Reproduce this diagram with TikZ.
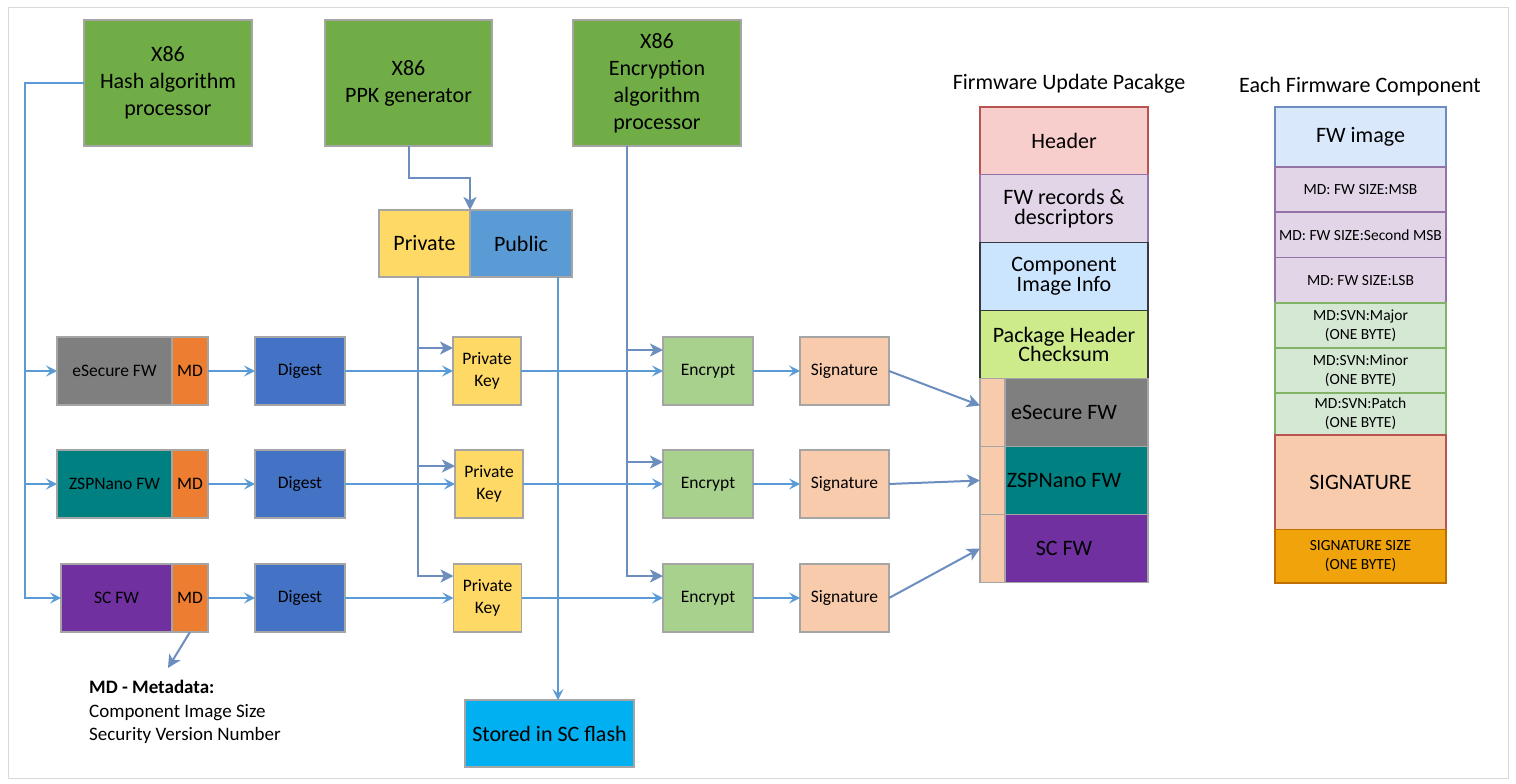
\documentclass[tikz,border=0pt]{standalone}
\usepackage{fontspec}
\setmainfont{Carlito}
\usetikzlibrary{positioning,arrows.meta}

\definecolor{framegray}{HTML}{D9D9D9}
\definecolor{boxline}{HTML}{A5A5A5}
\definecolor{x86green}{HTML}{70AD47}
\definecolor{keyyellow}{HTML}{FFD966}
\definecolor{pubblue}{HTML}{5B9BD5}
\definecolor{fwgray}{HTML}{7F7F7F}
\definecolor{mdorange}{HTML}{ED7D31}
\definecolor{fwteal}{HTML}{008080}
\definecolor{fwpurple}{HTML}{7030A0}
\definecolor{digblue}{HTML}{4472C4}
\definecolor{encgreen}{HTML}{A9D18E}
\definecolor{sigpeach}{HTML}{F8CBAD}
\definecolor{flashcyan}{HTML}{00B0F0}
\definecolor{lnklight}{HTML}{5B9BD5}
\definecolor{lnkdark}{HTML}{6C8EBF}
\definecolor{hdrpink}{HTML}{F8CECC}
\definecolor{hdrline}{HTML}{B85450}
\definecolor{recpurple}{HTML}{E1D5E7}
\definecolor{recline}{HTML}{9673A6}
\definecolor{infoblue}{HTML}{CCE5FF}
\definecolor{infoline}{HTML}{36393D}
\definecolor{chkgreen}{HTML}{CDEB8B}
\definecolor{imgblue}{HTML}{DAE8FC}
\definecolor{svngreen}{HTML}{D5E8D4}
\definecolor{svnline}{HTML}{82B366}
\definecolor{sizeorange}{HTML}{F0A30A}
\definecolor{sizeline}{HTML}{BD7000}

\newcommand{\bigfont}{\fontsize{22}{27}\selectfont}
\newcommand{\tightfont}{\fontsize{22}{19.5}\selectfont}
\newcommand{\rowfont}{\fontsize{17.5}{22}\selectfont}
\newcommand{\smallfont}{\fontsize{15.5}{19}\selectfont}
\newcommand{\mdfont}{\fontsize{19}{23.5}\selectfont}

\tikzset{
  blk/.style={draw=boxline, line width=1.2pt, inner sep=0pt, outer sep=0pt,
    align=center, minimum height=68pt, font=\rowfont},
  topblk/.style={blk, fill=x86green, minimum width=168pt, minimum height=126pt,
    font=\bigfont},
  pkg/.style={line width=1.2pt, inner sep=0pt, outer sep=0pt, align=center,
    minimum width=168pt, minimum height=68pt, font=\tightfont},
  strip/.style={fill=sigpeach, draw=boxline, line width=1.2pt, inner sep=0pt,
    outer sep=0pt, minimum width=25pt, minimum height=68pt},
  cmp/.style={line width=1.2pt, inner sep=0pt, outer sep=0pt, align=center,
    minimum width=171pt, minimum height=45pt, font=\smallfont},
  lite/.style={draw=lnklight, line width=2pt,
    -{Stealth[length=11pt,width=11pt,inset=4.5pt]}},
  dark/.style={draw=lnkdark, line width=2pt,
    -{Stealth[length=13pt,width=13pt,inset=3.5pt]}}
}

\begin{document}
\begin{tikzpicture}[x=1pt,y=-1pt]
  \useasboundingbox (0,0) rectangle (1516,784);
  \draw[framegray, line width=1pt] (8,8) rectangle (1508,778);

  \node[topblk] (h1) at (168,83) {X86\\Hash algorithm\\processor};
  \node[topblk, minimum width=167pt] (h2) at (408.5,83) {X86\\PPK generator};
  \node[topblk] (h3) at (657,83) {X86\\Encryption\\algorithm\\processor};

  \node[blk, fill=keyyellow, minimum width=91pt, minimum height=67pt, font=\bigfont] (pv) at (424.5,243.5) {Private};
  \node[blk, fill=pubblue, minimum width=102pt, minimum height=67pt, font=\bigfont, right=0pt of pv] (pb) {Public};

  \node[blk, fill=fwgray, minimum width=115pt] (e1) at (114.5,371) {eSecure FW};
  \node[blk, fill=mdorange, minimum width=36pt, right=0pt of e1] (m1) {MD};
  \node[blk, fill=digblue, minimum width=90pt] (d1) at (300,371) {Digest};
  \node[blk, fill=keyyellow, minimum width=68pt] (k1) at (487,371) {Private\\Key};
  \node[blk, fill=encgreen, minimum width=90pt] (c1) at (708,371) {Encrypt};
  \node[blk, fill=sigpeach, minimum width=89pt] (s1) at (844.5,371) {Signature};

  \node[blk, fill=fwteal, minimum width=115pt] (e2) at (114.5,484) {ZSPNano FW};
  \node[blk, fill=mdorange, minimum width=36pt, right=0pt of e2] (m2) {MD};
  \node[blk, fill=digblue, minimum width=90pt] (d2) at (300,484) {Digest};
  \node[blk, fill=keyyellow, minimum width=68pt] (k2) at (489,484) {Private\\Key};
  \node[blk, fill=encgreen, minimum width=90pt] (c2) at (708,484) {Encrypt};
  \node[blk, fill=sigpeach, minimum width=89pt] (s2) at (844.5,484) {Signature};

  \node[blk, fill=fwpurple, minimum width=111pt] (e3) at (116.5,598) {SC FW};
  \node[blk, fill=mdorange, minimum width=36pt, right=0pt of e3] (m3) {MD};
  \node[blk, fill=digblue, minimum width=90pt] (d3) at (300,598) {Digest};
  \node[blk, fill=keyyellow, minimum width=68pt] (k3) at (487.5,598) {Private\\Key};
  \node[blk, fill=encgreen, minimum width=90pt] (c3) at (708,598) {Encrypt};
  \node[blk, fill=sigpeach, minimum width=89pt] (s3) at (844.5,598) {Signature};

  \node[blk, fill=flashcyan, minimum width=169pt, minimum height=67pt, font=\bigfont] (st) at (549.5,733.5) {Stored in SC flash};
  \node[anchor=north west, align=left, inner sep=0pt, font=\mdfont] (mt) at (89,680) {\textbf{MD - Metadata:}\\Component Image Size\\Security Version Number};

  \node[font=\bigfont] (t1) at (1069,84) {Firmware Update Pacakge};
  \node[pkg, fill=hdrpink, draw=hdrline, minimum height=67.5pt, anchor=north] (q1) at (1064,107) {Header};
  \node[pkg, fill=recpurple, draw=recline, below=0pt of q1] (q2) {FW records \&\\descriptors};
  \node[pkg, fill=infoblue, draw=infoline, below=0pt of q2] (q3) {Component\\Image Info};
  \node[pkg, fill=chkgreen, draw=infoline, below=0pt of q3] (q4) {Package Header\\Checksum};
  \node[pkg, fill=fwgray, draw=boxline, below=0pt of q4] (q5) {eSecure FW};
  \node[strip, anchor=west] (q5s) at (q5.west) {};
  \node[pkg, fill=fwteal, draw=boxline, below=0pt of q5] (q6) {ZSPNano FW};
  \node[strip, anchor=west] (q6s) at (q6.west) {};
  \node[pkg, fill=fwpurple, draw=boxline, below=0pt of q6] (q7) {SC FW};
  \node[strip, anchor=west] (q7s) at (q7.west) {};

  \node[font=\bigfont] (t2) at (1360,87) {Each Firmware Component};
  \node[cmp, fill=imgblue, draw=lnkdark, minimum height=60pt, font=\bigfont, anchor=north] (r1) at (1360.5,107) {FW image};
  \node[cmp, fill=recpurple, draw=recline, below=0pt of r1] (r2) {MD: FW SIZE:MSB};
  \node[cmp, fill=recpurple, draw=recline, minimum height=45.5pt, below=0pt of r2] (r3) {MD: FW SIZE:Second MSB};
  \node[cmp, fill=recpurple, draw=recline, minimum height=45.5pt, below=0pt of r3] (r4) {MD: FW SIZE:LSB};
  \node[cmp, fill=svngreen, draw=svnline, below=0pt of r4] (r5) {MD:SVN:Major\\(ONE BYTE)};
  \node[cmp, fill=svngreen, draw=svnline, below=0pt of r5] (r6) {MD:SVN:Minor\\(ONE BYTE)};
  \node[cmp, fill=svngreen, draw=svnline, minimum height=42pt, below=0pt of r6] (r7) {MD:SVN:Patch\\(ONE BYTE)};
  \node[cmp, fill=sigpeach, draw=hdrline, minimum height=94.5pt, font=\bigfont, below=0pt of r7] (r8) {SIGNATURE};
  \node[cmp, fill=sizeorange, draw=sizeline, minimum height=53.5pt, below=0pt of r8] (r9) {SIGNATURE SIZE\\(ONE BYTE)};

  \coordinate (hx) at (25,82);
  \draw[lite] (h1.west) -| (hx |- e3.west) -- (e3.west);
  \draw[lite] (hx |- e1.west) -- (e1.west);
  \draw[lite] (hx |- e2.west) -- (e2.west);

  \draw[dark] (h2.south) -- ++(0,32) -| (pv.north east);

  \coordinate (pl) at ([xshift=-7pt]pv.south);
  \path ([yshift=23pt]k1.west) coordinate (k1a)
        ([yshift=18pt]k2.west) coordinate (k2a)
        ([yshift=22pt]k3.west) coordinate (k3a);
  \draw[dark] (pl) |- (k3a);
  \draw[dark] (pl |- k1a) -- (k1a);
  \draw[dark] (pl |- k2a) -- (k2a);

  \coordinate (ql) at ([xshift=37pt]pb.south);
  \draw[lite] (ql) -- (ql |- st.north);

  \coordinate (el) at ([xshift=-30pt]h3.south);
  \path ([yshift=21pt]c1.west) coordinate (c1a)
        ([yshift=22pt]c2.west) coordinate (c2a)
        ([yshift=22pt]c3.west) coordinate (c3a);
  \draw[dark] (el) |- (c3a);
  \draw[dark] (el |- c1a) -- (c1a);
  \draw[dark] (el |- c2a) -- (c2a);

  \draw[lite] (m1.east) -- (d1.west);
  \draw[lite] (d1.east) -- (k1.west);
  \draw[lite] (k1.east) -- (c1.west);
  \draw[lite] (c1.east) -- (s1.west);
  \draw[lite] (m2.east) -- (d2.west);
  \draw[lite] (d2.east) -- (k2.west);
  \draw[lite] (k2.east) -- (c2.west);
  \draw[lite] (c2.east) -- (s2.west);
  \draw[lite] (m3.east) -- (d3.west);
  \draw[lite] (d3.east) -- (k3.west);
  \draw[lite] (k3.east) -- (c3.west);
  \draw[lite] (c3.east) -- (s3.west);

  \draw[dark] (s1.east) -- ([yshift=7pt]q5.west);
  \draw[dark] (s2.east) -- (q6.west);
  \draw[dark] (s3.east) -- (q7.west);

  \coordinate (ma) at (168,668);
  \draw[dark] (m3.south) -- (ma);
\end{tikzpicture}
\end{document}
